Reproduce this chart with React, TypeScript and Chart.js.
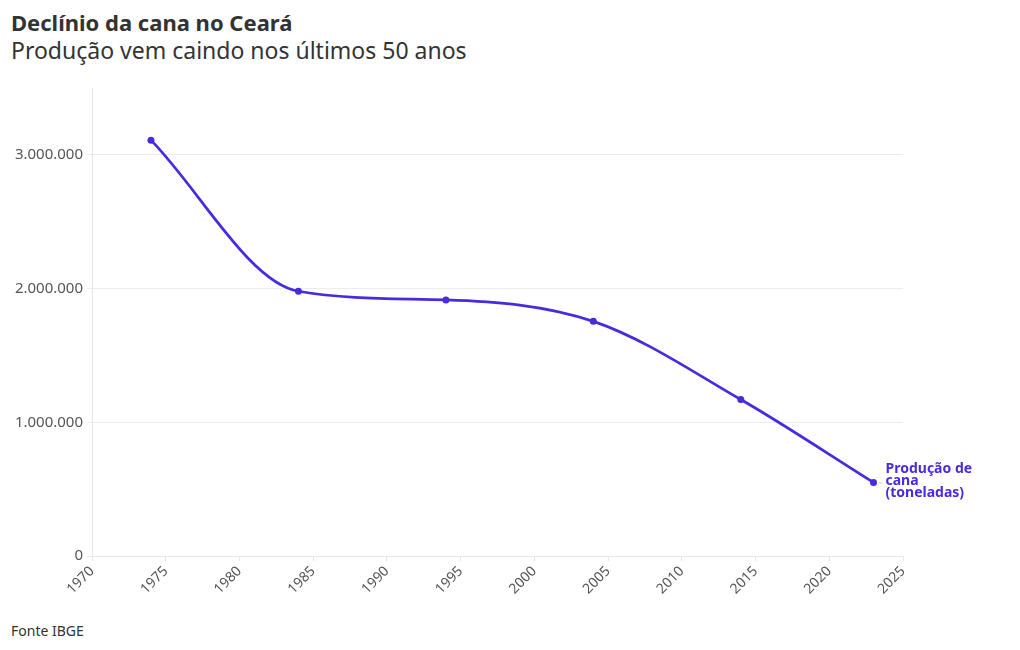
import React, { useEffect, useRef } from "react";
import { Chart, registerables } from "chart.js";

Chart.register(...registerables);

const years = [1974, 1984, 1994, 2004, 2014, 2023];
const production = [3110000, 1980000, 1915000, 1755000, 1170000, 550000];
const yTicks = [0, 1000000, 2000000, 3000000];
const seriesLabel = ["Produção de", "cana", "(toneladas)"];
const titleText = "Declínio da cana no Ceará";
const subtitleText = "Produção vem caindo nos últimos 50 anos";
const sourceText = "Fonte IBGE";

const FONT = "'Noto Sans', sans-serif";
const PURPLE = "#4a2ade";

function fmt(v: number) {
  return String(Math.round(v)).replace(/\B(?=(\d{3})+(?!\d))/g, ".");
}

const endLabel = {
  id: "endLabel",
  afterDatasetsDraw(chart: any) {
    const meta = chart.getDatasetMeta(0);
    const pt = meta.data[meta.data.length - 1];
    if (!pt) return;
    const ctx = chart.ctx;
    ctx.save();
    ctx.strokeStyle = "#cccccc";
    ctx.lineWidth = 1;
    ctx.beginPath();
    ctx.moveTo(pt.x + 5, pt.y + 0.5);
    ctx.lineTo(pt.x + 9, pt.y + 0.5);
    ctx.stroke();
    ctx.fillStyle = PURPLE;
    ctx.font = `bold 14px ${FONT}`;
    ctx.textBaseline = "middle";
    ctx.textAlign = "left";
    const offs = [-13, -1, 11];
    seriesLabel.forEach((t, i) => ctx.fillText(t, pt.x + 12, pt.y + offs[i]));
    ctx.restore();
  },
};

export default function App() {
  const ref = useRef<HTMLCanvasElement>(null);
  useEffect(() => {
    const chart = new Chart(ref.current!, {
      type: "line",
      data: {
        datasets: [
          {
            data: years.map((y, i) => ({ x: y, y: production[i] })),
            borderColor: PURPLE,
            backgroundColor: PURPLE,
            borderWidth: 2.75,
            pointRadius: 3.5,
            pointBorderWidth: 0,
            cubicInterpolationMode: "monotone",
          },
        ],
      },
      options: {
        responsive: false,
        animation: false,
        layout: { padding: { top: 0, right: 117, left: 0, bottom: 0 } },
        plugins: { legend: { display: false }, tooltip: { enabled: false } },
        scales: {
          x: {
            type: "linear",
            min: 1970,
            max: 2025,
            ticks: {
              stepSize: 5,
              maxRotation: 45,
              minRotation: 45,
              color: "#555555",
              font: { family: FONT, size: 14 },
              padding: 2,
              callback: (v: any) => String(v),
            },
            grid: { drawOnChartArea: false, drawTicks: true, tickLength: 5, color: "#e6e6e6" },
            border: { display: true, color: "#e6e6e6" },
            afterFit: (s: any) => { s.height = 64; },
          },
          y: {
            min: 0,
            max: 3500000,
            ticks: {
              color: "#555555",
              font: { family: FONT, size: 15 },
              padding: 4,
              callback: (v: any) => fmt(Number(v)),
            },
            afterBuildTicks: (s: any) => { s.ticks = yTicks.map((v) => ({ value: v })); },
            grid: { drawOnChartArea: true, drawTicks: true, tickLength: 5, color: "#ececec" },
            border: { display: true, color: "#e6e6e6" },
            afterFit: (s: any) => { s.width = 92; },
          },
        },
      },
      plugins: [endLabel],
    } as any);
    return () => chart.destroy();
  }, []);

  return (
    <div style={{ position: "fixed", left: 0, top: 0, width: 1020, height: 650, background: "#fff", fontFamily: FONT, color: "#333" }}>
      <div style={{ position: "absolute", left: 11, top: 8, fontSize: 22, fontWeight: 700, lineHeight: "28px", whiteSpace: "nowrap" }}>{titleText}</div>
      <div style={{ position: "absolute", left: 11, top: 35, fontSize: 23, fontWeight: 400, lineHeight: "30px", whiteSpace: "nowrap" }}>{subtitleText}</div>
      <canvas ref={ref} width={1020} height={545} style={{ position: "absolute", left: 0, top: 75 }} />
      <div style={{ position: "absolute", left: 11, top: 621, fontSize: 14, lineHeight: "20px", whiteSpace: "nowrap" }}>{sourceText}</div>
    </div>
  );
}
